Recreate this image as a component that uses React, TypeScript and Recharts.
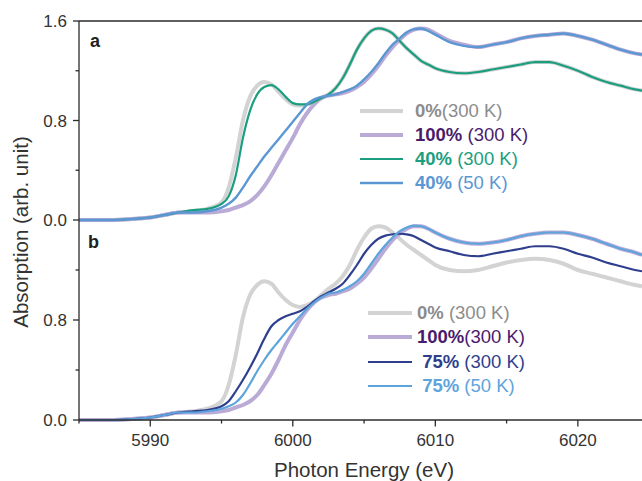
import React from 'react';
import { LineChart, Line, XAxis, YAxis, Legend, ReferenceLine } from 'recharts';

const FONT = '"Liberation Sans", Arial, Helvetica, sans-serif';
const AXIS = '#2b2b2b';

// photon energy grid (eV), shared by every trace
const energy = [
  5985, 5987, 5989, 5990, 5991, 5992, 5993, 5994,
  5995, 5995.5, 5996, 5996.5, 5997, 5997.5, 5998, 5998.5, 5999, 5999.5,
  6000, 6000.5, 6001, 6001.5, 6002, 6002.5, 6003, 6003.5, 6004, 6004.5,
  6005, 6005.5, 6006, 6006.5, 6007, 6007.5, 6008, 6008.5, 6009, 6009.5,
  6010, 6011, 6012, 6013, 6014, 6015, 6016, 6017, 6018, 6019, 6020,
  6021, 6022, 6023, 6024, 6024.5,
];

// panel a
const a0 = [
  0.0, 0.0, 0.01, 0.02, 0.04, 0.06, 0.07, 0.09,
  0.14, 0.26, 0.5, 0.8, 0.99, 1.08, 1.11, 1.09, 1.03, 0.97,
  0.93, 0.92, 0.93, 0.95, 0.98, 1.01, 1.06, 1.14, 1.25, 1.37,
  1.46, 1.52, 1.54, 1.53, 1.5, 1.44, 1.38, 1.33, 1.28, 1.25,
  1.22, 1.19, 1.18, 1.19, 1.21, 1.23, 1.25, 1.27, 1.27, 1.24, 1.2,
  1.15, 1.11, 1.08, 1.05, 1.04,
];
const a100 = [
  0.0, 0.0, 0.01, 0.02, 0.04, 0.06, 0.06, 0.06,
  0.07, 0.08, 0.1, 0.12, 0.15, 0.2, 0.27, 0.36, 0.46, 0.56,
  0.66, 0.77, 0.86, 0.93, 0.98, 1.0, 1.01, 1.02, 1.04, 1.07,
  1.11, 1.17, 1.24, 1.32, 1.39, 1.45, 1.5, 1.53, 1.54, 1.53,
  1.5, 1.44, 1.41, 1.39, 1.41, 1.43, 1.46, 1.48, 1.49, 1.5, 1.48,
  1.45, 1.41, 1.37, 1.34, 1.33,
];
const a40 = [
  0.0, 0.0, 0.01, 0.02, 0.04, 0.06, 0.08, 0.09,
  0.13, 0.19, 0.36, 0.66, 0.88, 1.01, 1.07, 1.085, 1.05, 0.99,
  0.94, 0.93, 0.93, 0.95, 0.98, 1.01, 1.06, 1.14, 1.25, 1.37,
  1.46, 1.52, 1.54, 1.53, 1.5, 1.44, 1.38, 1.33, 1.28, 1.25,
  1.22, 1.19, 1.18, 1.19, 1.21, 1.23, 1.25, 1.27, 1.27, 1.24, 1.2,
  1.15, 1.11, 1.08, 1.05, 1.04,
];
const a40cold = [
  0.0, 0.0, 0.01, 0.02, 0.04, 0.06, 0.06, 0.07,
  0.1, 0.13, 0.18, 0.26, 0.35, 0.43, 0.51, 0.58, 0.65, 0.72,
  0.79, 0.86, 0.93, 0.97, 0.99, 1.0, 1.01, 1.03, 1.05, 1.08,
  1.13, 1.19, 1.26, 1.34, 1.41, 1.46, 1.51, 1.535, 1.54, 1.52,
  1.49, 1.43, 1.4, 1.39, 1.41, 1.43, 1.46, 1.48, 1.49, 1.5, 1.48,
  1.45, 1.41, 1.37, 1.34, 1.33,
];

// panel b
const b0 = [
  0.0, 0.0, 0.01, 0.02, 0.04, 0.06, 0.07, 0.09,
  0.15, 0.28, 0.52, 0.82, 1.0, 1.08, 1.11, 1.09, 1.02, 0.96,
  0.92, 0.905, 0.92, 0.95, 1.0, 1.05, 1.09, 1.15, 1.24, 1.36,
  1.46, 1.53, 1.55, 1.54, 1.5, 1.45, 1.4, 1.36, 1.32, 1.28,
  1.24, 1.2, 1.19, 1.2, 1.23, 1.26, 1.28, 1.29, 1.28, 1.25, 1.2,
  1.17, 1.14, 1.11, 1.08, 1.07,
];
const b100 = [
  0.0, 0.0, 0.01, 0.02, 0.04, 0.06, 0.06, 0.06,
  0.07, 0.08, 0.1, 0.12, 0.15, 0.2, 0.28, 0.37, 0.48, 0.6,
  0.7, 0.8, 0.88, 0.94, 0.98, 1.0, 1.01, 1.03, 1.05, 1.09,
  1.14, 1.21, 1.29, 1.37, 1.44, 1.49, 1.53, 1.55, 1.55, 1.53,
  1.5, 1.45, 1.42, 1.41, 1.42, 1.44, 1.47, 1.49, 1.5, 1.5, 1.48,
  1.45, 1.41, 1.37, 1.34, 1.32,
];
const b75 = [
  0.0, 0.0, 0.01, 0.02, 0.04, 0.06, 0.07, 0.08,
  0.11, 0.15, 0.23, 0.32, 0.42, 0.53, 0.65, 0.75, 0.8, 0.83,
  0.85, 0.87, 0.905, 0.95, 0.99, 1.02, 1.05, 1.09, 1.16, 1.24,
  1.33, 1.4, 1.45, 1.475, 1.485, 1.49, 1.485, 1.47, 1.44, 1.41,
  1.38, 1.35, 1.32, 1.31, 1.33, 1.35, 1.37, 1.39, 1.39, 1.37, 1.33,
  1.3, 1.26, 1.23, 1.2, 1.19,
];
const b75cold = [
  0.0, 0.0, 0.01, 0.02, 0.04, 0.06, 0.06, 0.07,
  0.09, 0.11, 0.14, 0.2, 0.29, 0.39, 0.48, 0.56, 0.63, 0.7,
  0.77, 0.83, 0.89, 0.94, 0.98, 1.01, 1.02, 1.04, 1.07, 1.11,
  1.17, 1.25, 1.33, 1.4, 1.46, 1.51, 1.54, 1.555, 1.55, 1.53,
  1.5, 1.45, 1.42, 1.41, 1.42, 1.44, 1.47, 1.49, 1.5, 1.5, 1.48,
  1.45, 1.41, 1.37, 1.34, 1.32,
];

const xTicks = [5985, 5990, 5995, 6000, 6005, 6010, 6015, 6020];
const xLabelTicks = [5990, 6000, 6010, 6020];
const yTicksA = [0, 0.4, 0.8, 1.2, 1.6];
const yTicksB = [0, 0.4, 0.8, 1.2];
const yLabelTicks = [0, 0.8, 1.6];

const seriesA = [
  { key: 'a0', name: '0%', rest: '(300 K)', color: '#d3d3d3', text: '#8c8c8c', width: 4 },
  { key: 'a100', name: '100%', rest: ' (300 K)', color: '#b9aad6', text: '#4a1b6d', width: 4 },
  { key: 'a40', name: '40%', rest: ' (300 K)', color: '#1b9e80', text: '#1b9e80', width: 2.2 },
  { key: 'a40cold', name: '40%', rest: ' (50 K)', color: '#5b97d2', text: '#5b97d2', width: 2.4 },
];
const seriesB = [
  { key: 'b0', name: '0%', rest: ' (300 K)', color: '#d3d3d3', text: '#8c8c8c', width: 4 },
  { key: 'b100', name: '100%', rest: '(300 K)', color: '#b9aad6', text: '#4a1b6d', width: 4 },
  { key: 'b75', name: ' 75%', rest: ' (300 K)', color: '#2f3f8e', text: '#2f3f8e', width: 2.2 },
  { key: 'b75cold', name: ' 75%', rest: ' (50 K)', color: '#5ea4dc', text: '#5ea4dc', width: 2.2 },
];

const rowsA = energy.map((e, i) => ({ e, a0: a0[i], a100: a100[i], a40: a40[i], a40cold: a40cold[i] }));
const rowsB = energy.map((e, i) => ({ e, b0: b0[i], b100: b100[i], b75: b75[i], b75cold: b75cold[i] }));

function YTick({ x, y, payload }: any) {
  const major = yLabelTicks.includes(payload.value);
  return (
    <g>
      <line x1={x - (major ? 6 : 3.5)} x2={x} y1={y} y2={y} stroke={AXIS} strokeWidth={1.3} />
      {major && (
        <text x={x - 12} y={y} dy="0.36em" textAnchor="end" fontSize={17} fontFamily={FONT} fill="#333">
          {payload.value.toFixed(1)}
        </text>
      )}
    </g>
  );
}

function XTick({ x, y, payload }: any) {
  const major = xLabelTicks.includes(payload.value);
  return (
    <g>
      <line x1={x} x2={x} y1={y} y2={y + (major ? 6.5 : 3.5)} stroke={AXIS} strokeWidth={1.3} />
      {major && (
        <text x={x} y={y + 26} textAnchor="middle" fontSize={17} fontFamily={FONT} fill="#333">
          {payload.value}
        </text>
      )}
    </g>
  );
}

function PanelLegend({ items, len, gap }: any) {
  return (
    <div style={{ fontFamily: FONT, fontSize: 18.5 }}>
      {items.map((s: any) => (
        <div key={s.key} style={{ display: 'flex', alignItems: 'center', height: 24.2, whiteSpace: 'pre' }}>
          <svg width={len} height={8}>
            <line x1={0} x2={len} y1={4} y2={4} stroke={s.color} strokeWidth={s.width} />
          </svg>
          <span style={{ marginLeft: gap, color: s.text }}>
            <b>{s.name}</b>
            {s.rest}
          </span>
        </div>
      ))}
    </div>
  );
}

function lines(series: any[]) {
  return series.map((s) => (
    <Line
      key={s.key}
      type="monotone"
      dataKey={s.key}
      stroke={s.color}
      strokeWidth={s.width}
      dot={false}
      activeDot={false}
      isAnimationActive={false}
    />
  ));
}

export default function App() {
  const axisLine = { stroke: AXIS, strokeWidth: 1.3 };
  return (
    <div style={{ position: 'absolute', left: 0, top: 0, width: 642, height: 481, background: '#fff', overflow: 'hidden' }}>
      <div style={{ position: 'absolute', left: 0, top: 0 }}>
        <LineChart width={642} height={232} data={rowsA} margin={{ top: 21, right: 0, bottom: 12, left: 0 }}>
          <XAxis
            dataKey="e"
            type="number"
            domain={[5985, 6024.5]}
            allowDataOverflow
            ticks={xTicks}
            tick={false}
            tickLine={false}
            height={0}
            axisLine={axisLine}
          />
          <YAxis
            type="number"
            domain={[0, 1.6]}
            ticks={yTicksA}
            interval={0}
            width={79}
            tick={<YTick />}
            tickLine={false}
            tickSize={0}
            tickMargin={0}
            axisLine={axisLine}
          />
          <ReferenceLine y={1.6} stroke={AXIS} strokeWidth={1.3} />
          {lines(seriesA)}
          <Legend
            layout="horizontal"
            verticalAlign="middle"
            align="center"
            wrapperStyle={{ left: 360, top: 98.5, width: 260 }}
            content={() => <PanelLegend items={seriesA} len={43} gap={12} />}
          />
        </LineChart>
      </div>
      <div style={{ position: 'absolute', left: 0, top: 220 }}>
        <LineChart width={642} height={261} data={rowsB} margin={{ top: 0, right: 0, bottom: 31, left: 0 }}>
          <XAxis
            dataKey="e"
            type="number"
            domain={[5985, 6024.5]}
            allowDataOverflow
            ticks={xTicks}
            interval={0}
            height={30}
            tick={<XTick />}
            tickLine={false}
            tickSize={0}
            tickMargin={0}
            axisLine={axisLine}
          />
          <YAxis
            type="number"
            domain={[0, 1.6]}
            ticks={yTicksB}
            interval={0}
            width={79}
            tick={<YTick />}
            tickLine={false}
            tickSize={0}
            tickMargin={0}
            axisLine={axisLine}
          />
          {lines(seriesB)}
          <Legend
            layout="horizontal"
            verticalAlign="middle"
            align="center"
            wrapperStyle={{ left: 368, top: 81.2, width: 260 }}
            content={() => <PanelLegend items={seriesB} len={44} gap={5} />}
          />
        </LineChart>
      </div>
      <svg
        width={642}
        height={481}
        style={{ position: 'absolute', left: 0, top: 0, pointerEvents: 'none' }}
        fontFamily={FONT}
      >
        <text x={90} y={47} fontSize={18} fontWeight="bold" fill="#222">a</text>
        <text x={88} y={248} fontSize={18} fontWeight="bold" fill="#222">b</text>
        <text transform="translate(28,232) rotate(-90)" textAnchor="middle" fontSize={20.5} fill="#333">
          Absorption (arb. unit)
        </text>
        <text x={364} y={477} textAnchor="middle" fontSize={20.5} fill="#333">
          Photon Energy (eV)
        </text>
      </svg>
    </div>
  );
}
